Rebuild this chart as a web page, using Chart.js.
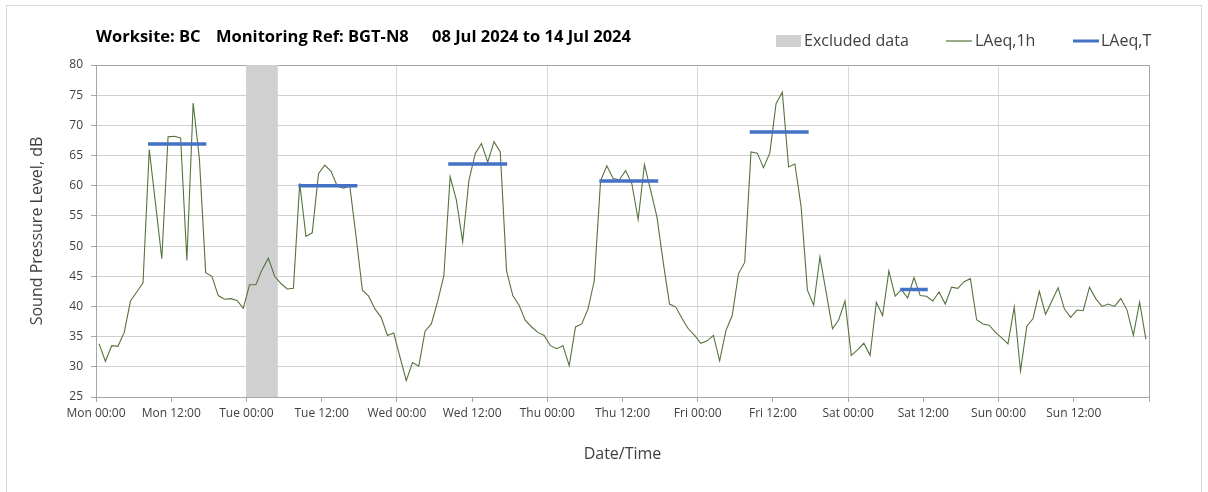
<!DOCTYPE html>
<html>
<head>
<meta charset="utf-8">
<script src="https://cdn.jsdelivr.net/npm/chart.js@4.4.1/dist/chart.umd.min.js"></script>
<style>
  html, body { margin: 0; padding: 0; background: #fff; }
  canvas { display: block; }
</style>
</head>
<body>
<canvas id="noise" width="1208" height="492"></canvas>
<script>
// chart text
const titleParts = ['Worksite: BC', 'Monitoring Ref: BGT-N8', '08 Jul 2024 to 14 Jul 2024'];
const legendLabels = ['Excluded data', 'LAeq,1h', 'LAeq,T'];
const xTickLabels = ['Mon 00:00', 'Mon 12:00', 'Tue 00:00', 'Tue 12:00', 'Wed 00:00', 'Wed 12:00',
    'Thu 00:00', 'Thu 12:00', 'Fri 00:00', 'Fri 12:00', 'Sat 00:00', 'Sat 12:00',
    'Sun 00:00', 'Sun 12:00', ''];
const yMin = 25, yMax = 80, yStep = 5;

// hourly LAeq,1h values, Mon 00:00 .. Sun 23:00
const laeq1h = [
    33.8, 30.9, 33.5, 33.4, 35.7, 40.9, 42.4, 43.9, 66.0, 57.0, 47.9, 68.1,
    68.2, 67.9, 47.6, 73.7, 64.4, 45.6, 45.0, 41.8, 41.2, 41.3, 41.0, 39.7,
    43.6, 43.6, 46.1, 48.0, 45.0, 43.8, 42.9, 43.0, 60.4, 51.6, 52.2, 62.0,
    63.4, 62.4, 59.9, 59.6, 59.9, 51.5, 42.7, 41.7, 39.6, 38.2, 35.2, 35.6,
    31.6, 27.7, 30.7, 30.1, 35.9, 37.1, 40.8, 45.1, 61.5, 57.6, 50.7, 60.9,
    65.3, 67.0, 63.9, 67.3, 65.6, 45.9, 41.8, 40.2, 37.7, 36.6, 35.7, 35.2,
    33.5, 33.0, 33.5, 30.2, 36.6, 37.1, 39.6, 44.3, 60.8, 63.3, 61.2, 61.0,
    62.5, 60.3, 54.4, 63.5, 59.2, 54.8, 47.3, 40.4, 39.9, 38.0, 36.3, 35.2,
    33.9, 34.3, 35.2, 31.0, 36.0, 38.5, 45.4, 47.3, 65.6, 65.4, 63.0, 65.4,
    73.6, 75.5, 63.1, 63.6, 56.5, 42.7, 40.2, 48.2, 42.3, 36.3, 37.8, 40.9,
    31.9, 32.8, 33.9, 31.9, 40.7, 38.5, 45.9, 41.7, 42.8, 41.4, 44.8, 41.8,
    41.7, 40.9, 42.4, 40.4, 43.2, 43.0, 44.1, 44.6, 37.8, 37.1, 36.9, 35.7,
    34.8, 33.8, 39.9, 29.3, 36.7, 38.0, 42.5, 38.7, 40.9, 43.1, 39.6, 38.2,
    39.4, 39.3, 43.2, 41.3, 40.0, 40.4, 40.0, 41.3, 39.4, 35.2, 40.7, 34.6
];

// LAeq,T over each daytime period (hours from Mon 00:00)
const periodStart = [8.3, 32.3, 56.2, 80.3, 104.3, 128.3];
const periodEnd   = [17.6, 41.7, 65.6, 89.7, 113.7, 132.7];
const periodLevel = [66.9, 60.0, 63.6, 60.8, 68.9, 42.8];

// excluded data window (hours from Mon 00:00)
const excludedStart = 24;
const excludedEnd = 29;

const green = '#56733F';
const blue = '#4472C4';
const grey = '#D0D0D0';
const textColor = '#404040';
const fontFamily = '"Open Sans", Lato, sans-serif';

const hourlyPoints = laeq1h.map((v, i) => ({x: i + 0.5, y: v}));
const periodPoints = [];
periodLevel.forEach((lvl, i) => {
    periodPoints.push({x: periodStart[i], y: lvl});
    periodPoints.push({x: periodEnd[i], y: lvl});
    periodPoints.push({x: periodEnd[i], y: null});
});

const excludedBand = {
    id: 'excludedBand',
    beforeDraw(chart) {
        const ctx = chart.ctx;
        ctx.save();
        ctx.strokeStyle = '#D9D9D9';
        ctx.lineWidth = 1;
        ctx.strokeRect(6.5, 5.5, 1195, 500);
        ctx.restore();
    },
    beforeDatasetsDraw(chart) {
        const {ctx, chartArea, scales} = chart;
        const x1 = scales.x.getPixelForValue(excludedStart);
        const x2 = scales.x.getPixelForValue(excludedEnd);
        ctx.save();
        ctx.fillStyle = grey;
        ctx.fillRect(x1, chartArea.top, x2 - x1, chartArea.bottom - chartArea.top);
        ctx.restore();
    }
};

const titleAndLegend = {
    id: 'titleAndLegend',
    afterDraw(chart) {
        const ctx = chart.ctx;
        ctx.save();
        ctx.textBaseline = 'middle';
        ctx.fillStyle = '#000';
        ctx.font = 'bold 16.5px ' + fontFamily;
        const titleX = [96, 216, 432];
        titleParts.forEach((t, i) => ctx.fillText(t, titleX[i], 37));

        const ly = 41;
        ctx.font = '16px ' + fontFamily;
        ctx.fillStyle = grey;
        ctx.fillRect(776, ly - 6, 25, 12);
        ctx.fillStyle = textColor;
        ctx.fillText(legendLabels[0], 804, ly);

        ctx.strokeStyle = green;
        ctx.lineWidth = 1.2;
        ctx.beginPath();
        ctx.moveTo(946, ly); ctx.lineTo(972, ly);
        ctx.stroke();
        ctx.fillText(legendLabels[1], 975, ly);

        ctx.strokeStyle = blue;
        ctx.lineWidth = 3;
        ctx.beginPath();
        ctx.moveTo(1073, ly); ctx.lineTo(1099, ly);
        ctx.stroke();
        ctx.fillText(legendLabels[2], 1101, ly);
        ctx.restore();
    }
};

Chart.defaults.font.family = fontFamily;

const chart = new Chart(document.getElementById('noise').getContext('2d'), {
    type: 'line',
    data: {
        datasets: [{
            label: 'LAeq,T',
            data: periodPoints,
            borderColor: blue,
            borderWidth: 3.5,
            borderCapStyle: 'butt',
            pointRadius: 0,
            spanGaps: false,
            order: 1
        }, {
            label: 'LAeq,1h',
            data: hourlyPoints,
            borderColor: green,
            borderWidth: 1.1,
            pointRadius: 0,
            tension: 0,
            order: 2
        }]
    },
    options: {
        responsive: false,
        animation: false,
        layout: {
            padding: {top: 65, right: 59, left: 0, bottom: 0}
        },
        plugins: {
            legend: {display: false},
            title: {display: false},
            tooltip: {enabled: false}
        },
        scales: {
            x: {
                type: 'linear',
                min: 0,
                max: 168,
                afterFit: s => { s.height = 95; },
                ticks: {
                    stepSize: 12,
                    autoSkip: false,
                    maxRotation: 0,
                    padding: 4,
                    color: textColor,
                    font: {size: 12},
                    callback: v => xTickLabels[v / 12] || ''
                },
                grid: {
                    color: c => {
                        if (!c.tick) return 'rgba(0,0,0,0)';
                        if (c.tick.value === 168) return '#A6A6A6';
                        return c.tick.value % 24 === 0 ? '#D9D9D9' : 'rgba(0,0,0,0)';
                    },
                    tickColor: '#A6A6A6',
                    tickLength: 5
                },
                border: {color: '#A6A6A6'},
                title: {
                    display: true,
                    text: 'Date/Time',
                    color: textColor,
                    font: {size: 16},
                    padding: {top: 0, bottom: 28}
                }
            },
            y: {
                min: yMin,
                max: yMax,
                afterFit: s => { s.width = 96; },
                ticks: {
                    stepSize: yStep,
                    padding: 8,
                    color: textColor,
                    font: {size: 12}
                },
                grid: {
                    color: c => (c.tick && c.tick.value === yMax) ? '#A6A6A6' : '#D0D0D0',
                    tickColor: '#A6A6A6',
                    tickLength: 5
                },
                border: {color: '#A6A6A6'},
                title: {
                    display: true,
                    text: 'Sound Pressure Level, dB',
                    color: textColor,
                    font: {size: 16},
                    padding: {top: 28, bottom: 0}
                }
            }
        }
    },
    plugins: [excludedBand, titleAndLegend]
});
</script>
</body>
</html>
